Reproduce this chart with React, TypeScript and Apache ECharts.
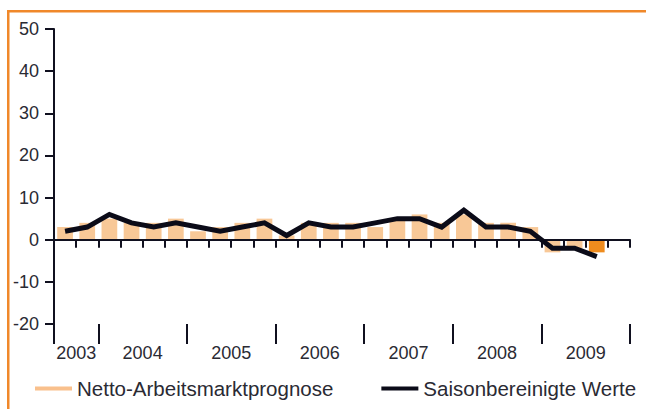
import React, { useEffect, useRef } from "react";
import * as echarts from "echarts";

const quarters = [
  "2003 Q3", "2003 Q4",
  "2004 Q1", "2004 Q2", "2004 Q3", "2004 Q4",
  "2005 Q1", "2005 Q2", "2005 Q3", "2005 Q4",
  "2006 Q1", "2006 Q2", "2006 Q3", "2006 Q4",
  "2007 Q1", "2007 Q2", "2007 Q3", "2007 Q4",
  "2008 Q1", "2008 Q2", "2008 Q3", "2008 Q4",
  "2009 Q1", "2009 Q2", "2009 Q3", "2009 Q4",
];
const netOutlook = [3, 4, 5, 4, 4, 5, 2, 3, 4, 5, 1, 4, 4, 4, 3, 5, 6, 4, 6, 4, 4, 3, -3, -2, -3, null];
const seasonal = [2, 3, 6, 4, 3, 4, 3, 2, 3, 4, 1, 4, 3, 3, 4, 5, 5, 3, 7, 3, 3, 2, -2, -2, -4, null];
const yearLabels = ["2003", "2004", "2005", "2006", "2007", "2008", "2009"];
const quartersPerYear = [2, 4, 4, 4, 4, 4, 4];
const yMin = -20;
const yMax = 50;
const yStep = 10;

const FONT = "'Liberation Sans', Arial, Helvetica, sans-serif";
const AXIS = "#10101f";
const TEXT = "#2a2a33";
const LIGHT = "#f8c897";
const DARK = "#ef8c1e";
const ORANGE = "#f0882a";

export default function App() {
  const ref = useRef<HTMLDivElement>(null);
  useEffect(() => {
    if (!ref.current) return;
    const chart = echarts.init(ref.current, null, { renderer: "svg" });

    // boundary axis: 27 points (quarter boundaries)
    const boundaries: number[] = [0];
    quartersPerYear.forEach((q) => boundaries.push(boundaries[boundaries.length - 1] + q));
    const labelPos: Record<number, string> = {};
    yearLabels.forEach((y, i) => {
      labelPos[boundaries[i] + quartersPerYear[i] / 2] = y;
    });
    const boundaryData: string[] = [];
    for (let i = 0; i <= quarters.length; i++) boundaryData.push(labelPos[i] ?? "b" + i);

    let lastIdx = 0;
    netOutlook.forEach((v, i) => {
      if (v !== null) lastIdx = i;
    });
    const barData = netOutlook.map((v, i) =>
      i === lastIdx ? { value: v, itemStyle: { color: DARK } } : v
    );

    chart.setOption({
      animation: false,
      textStyle: { fontFamily: FONT },
      graphic: [
        { type: "rect", shape: { x: 7, y: 10, width: 646, height: 2.5 }, style: { fill: ORANGE }, silent: true },
        { type: "rect", shape: { x: 7, y: 10, width: 2.5, height: 409 }, style: { fill: ORANGE }, silent: true },
      ],
      grid: { left: 54, right: 16, top: 29, bottom: 85, containLabel: false },
      legend: {
        left: 30,
        top: 373,
        itemWidth: 37,
        itemHeight: 4,
        itemGap: 48,
        textStyle: { fontSize: 20.5, color: TEXT, fontFamily: FONT },
        data: [
          { name: "Netto-Arbeitsmarktprognose", icon: "rect", itemStyle: { color: "#f9c08c" } },
          { name: "Saisonbereinigte Werte", icon: "rect" },
        ],
      },
      xAxis: [
        {
          type: "category",
          position: "bottom",
          data: quarters,
          boundaryGap: true,
          axisLine: { show: true, lineStyle: { color: AXIS, width: 2 } },
          axisTick: { show: true, interval: 0, length: 8, lineStyle: { color: AXIS, width: 2 } },
          axisLabel: { show: false },
          splitLine: { show: false },
        },
        {
          type: "category",
          position: "bottom",
          data: boundaryData,
          boundaryGap: false,
          axisLine: { show: false },
          axisTick: {
            show: true,
            length: 20,
            interval: (idx: number) => boundaries.includes(idx),
            lineStyle: { color: AXIS, width: 2 },
          },
          axisLabel: {
            show: true,
            interval: (idx: number) => labelPos[idx] !== undefined,
            margin: 20,
            fontSize: 18,
            color: TEXT,
            fontFamily: FONT,
          },
          splitLine: { show: false },
        },
      ],
      yAxis: {
        type: "value",
        min: yMin,
        max: yMax,
        interval: yStep,
        axisLine: { show: true, lineStyle: { color: AXIS, width: 2 } },
        axisTick: { show: true, length: 9, lineStyle: { color: AXIS, width: 2 } },
        axisLabel: { margin: 15, fontSize: 18, color: TEXT, fontFamily: FONT },
        splitLine: { show: false },
      },
      series: [
        {
          name: "Netto-Arbeitsmarktprognose",
          type: "bar",
          xAxisIndex: 0,
          data: barData,
          barCategoryGap: "29%",
          itemStyle: { color: LIGHT },
          markLine: {
            silent: true,
            symbol: ["none", "none"],
            label: { show: false },
            lineStyle: { color: AXIS, width: 2, type: "solid" },
            data: [{ yAxis: 0 }],
          },
        },
        {
          name: "Saisonbereinigte Werte",
          type: "line",
          xAxisIndex: 0,
          data: seasonal,
          symbol: "none",
          lineStyle: { color: "#0b0b18", width: 5, join: "miter" },
          itemStyle: { color: "#0b0b18" },
          z: 5,
        },
      ],
    });
    return () => chart.dispose();
  }, []);
  return (
    <div
      ref={ref}
      style={{ position: "fixed", left: 0, top: 0, width: 646, height: 409, background: "#fff" }}
    />
  );
}
